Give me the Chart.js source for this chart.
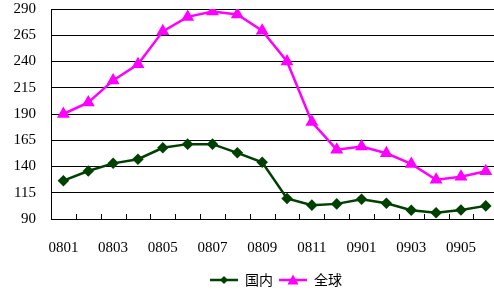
<!DOCTYPE html>
<html><head><meta charset="utf-8">
<script src="https://cdn.jsdelivr.net/npm/chart.js@4/dist/chart.umd.min.js"></script>
<style>html,body{margin:0;padding:0;background:#fff;overflow:hidden;width:494px;height:290px}</style>
</head><body>
<div style="width:506px;height:290px"><canvas id="c" width="506" height="290"></canvas></div>
<script>
const categories = ['0801','0802','0803','0804','0805','0806','0807','0808','0809','0810','0811','0812','0901','0902','0903','0904','0905','0906'];
const domestic = [126.5,135.7,143,146.9,157.8,161.3,161.3,153,144,109.5,103.2,104.4,108.9,105,98.3,96,98.6,102.5];
const globalVals = [190,201,222,237.4,268.7,282.5,287.6,284.7,269.4,240,182.4,156,159,152.6,142.5,127.4,130.3,135.4];
const yMin = 90, yMax = 290, yStep = 25;

function legendIcon(color, style) {
  const c = document.createElement('canvas');
  c.width = 28; c.height = 12;
  const g = c.getContext('2d');
  g.strokeStyle = color; g.lineWidth = 2.5;
  g.beginPath(); g.moveTo(0, 6); g.lineTo(28, 6); g.stroke();
  g.fillStyle = color;
  g.beginPath();
  if (style === 'triangle') { g.moveTo(14, 0.5); g.lineTo(19.5, 10.5); g.lineTo(8.5, 10.5); }
  else { g.moveTo(14, 2); g.lineTo(18, 6); g.lineTo(14, 10); g.lineTo(10, 6); }
  g.closePath(); g.fill();
  return c;
}

const innerTicks = {
  id: 'innerTicks',
  afterLayout(chart) {
    if (chart.legend) { chart.legend.left += 23; chart.legend.right += 23; }
  },
  afterDraw(chart) {
    const x = chart.scales.x, ctx = chart.ctx, b = chart.chartArea.bottom;
    ctx.save(); ctx.strokeStyle = '#000'; ctx.lineWidth = 1;
    for (let i = 1; i < categories.length; i++) {
      const px = Math.round((x.getPixelForValue(i - 1) + x.getPixelForValue(i)) / 2) + 0.5;
      ctx.beginPath(); ctx.moveTo(px, b); ctx.lineTo(px, b - 5); ctx.stroke();
    }
    ctx.restore();
  }
};

const colors = ['#004000', '#ff00ff'];
const styles = ['rectRot', 'triangle'];

new Chart(document.getElementById('c'), {
  type: 'line',
  data: {
    labels: categories,
    datasets: [
      { label: '国内', data: domestic, borderColor: colors[0], backgroundColor: colors[0], borderWidth: 2.5,
        pointStyle: styles[0], pointRadius: 4, pointHoverRadius: 4, tension: 0 },
      { label: '全球', data: globalVals, borderColor: colors[1], backgroundColor: colors[1], borderWidth: 2.5,
        pointStyle: styles[1], pointRadius: 5, pointHoverRadius: 5, tension: 0 }
    ]
  },
  options: {
    responsive: false, animation: false,
    layout: { padding: { top: 0, right: 0, left: 0, bottom: -7 } },
    plugins: {
      tooltip: { enabled: false },
      legend: { position: 'bottom', labels: { usePointStyle: true, pointStyleWidth: 28, padding: 6,
        font: { family: "'Noto Sans CJK SC', sans-serif", size: 14 }, color: '#000',
        generateLabels(chart) {
          return chart.data.datasets.map((d, i) => ({ text: d.label, fillStyle: d.borderColor, strokeStyle: d.borderColor,
            lineWidth: 0, pointStyle: legendIcon(d.borderColor, d.pointStyle), datasetIndex: i, hidden: false }));
        } } }
    },
    scales: {
      x: {
        offset: true,
        afterFit(s) { s.height = 48; },
        grid: { display: false, drawTicks: false },
        border: { display: true, color: '#000', width: 1 },
        ticks: { autoSkip: false, maxRotation: 0, padding: 20, color: '#000',
          font: { family: "'Liberation Serif', serif", size: 15 },
          callback(v, i) { return i % 2 === 0 ? categories[i] : ''; } }
      },
      y: {
        min: yMin, max: yMax,
        afterFit(s) { s.width = 51; s.paddingTop = 9; s.paddingBottom = 9; },
        grid: { color: '#000', lineWidth: 1, drawTicks: false },
        border: { display: true, color: '#000', width: 1 },
        ticks: { stepSize: yStep, padding: 15, color: '#000', font: { family: "'Liberation Serif', serif", size: 15 } }
      }
    }
  },
  plugins: [innerTicks]
});
</script>
</body></html>
